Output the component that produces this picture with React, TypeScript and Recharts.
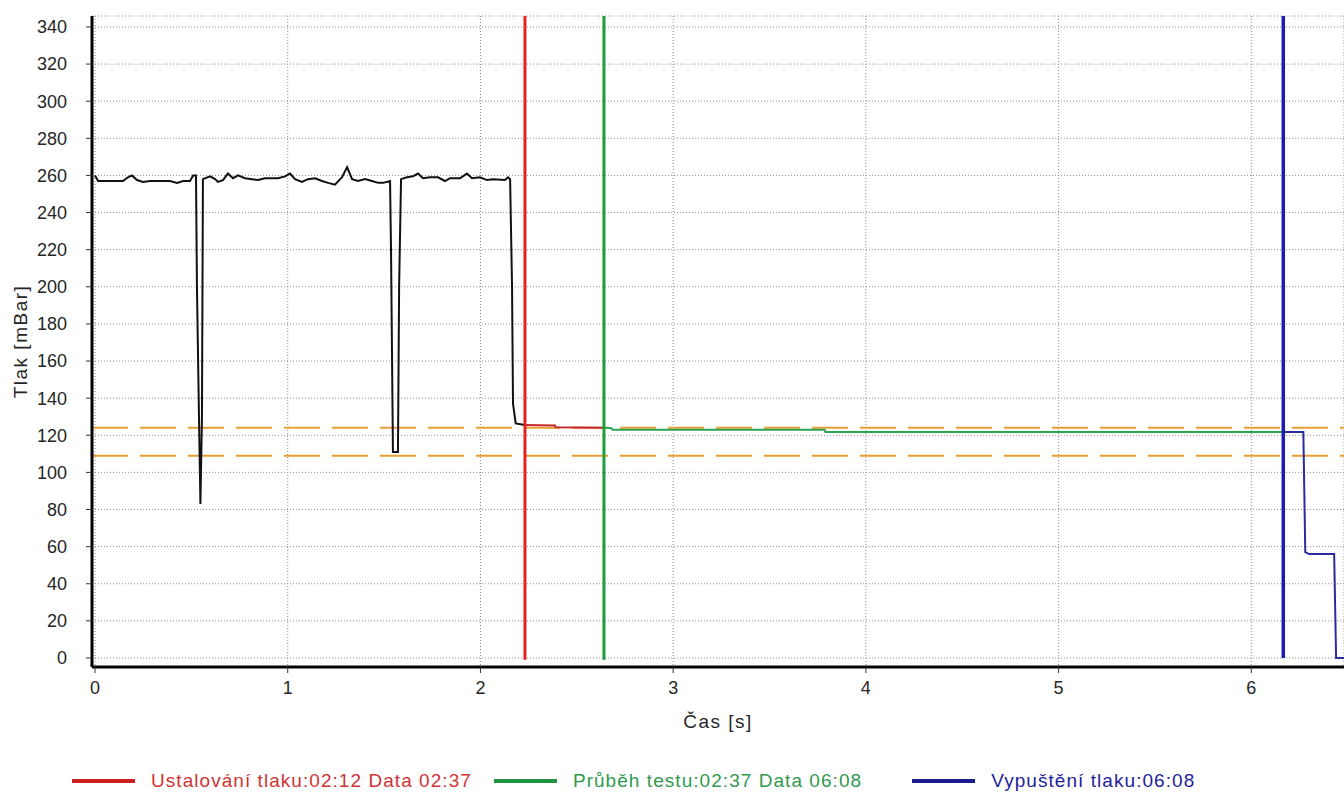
import { LineChart, Line, XAxis, YAxis, CartesianGrid, ReferenceLine } from "recharts";

// measured pressure trace (black), time in s, pressure in mBar
const blackT = [
  0.0, 0.016, 0.145, 0.171, 0.192, 0.218, 0.249, 0.285, 0.389, 0.426, 0.457, 0.493, 0.509, 0.524,
  0.529, 0.54, 0.547, 0.555, 0.56, 0.597, 0.623, 0.638, 0.664, 0.69, 0.716, 0.742, 0.778, 0.815,
  0.846, 0.882, 0.919, 0.95, 0.986, 1.012, 1.038, 1.074, 1.105, 1.142, 1.178, 1.209, 1.245, 1.282,
  1.308, 1.334, 1.365, 1.401, 1.437, 1.469, 1.495, 1.531, 1.536, 1.546, 1.572, 1.578, 1.588, 1.619,
  1.65, 1.676, 1.702, 1.738, 1.78, 1.816, 1.842, 1.894, 1.93, 1.956, 1.998, 2.034, 2.065, 2.128,
  2.143, 2.154, 2.164, 2.169, 2.183, 2.231,
];
const blackP = [
  260, 257, 257, 259, 260, 257.5, 256.5, 257, 257, 256, 257, 257, 260, 260,
  200, 127, 83, 130, 258, 259.5, 258, 256.5, 257.5, 261, 258.5, 260, 258.5, 258,
  257.5, 258.5, 258.5, 258.5, 259.5, 261, 258, 256.5, 258, 258.5, 257, 256, 255, 259,
  264.5, 258, 257, 258, 257, 256, 256, 257, 220, 111, 111, 200, 258, 259,
  259.5, 261, 258.5, 259, 259, 257, 258.5, 258.5, 261, 258.5, 259, 257.5, 258, 257.5,
  259, 258, 200, 137, 126.4, 125.5,
];

// stabilisation phase (red)
const redT = [2.231, 2.387, 2.39, 2.641];
const redP = [125.5, 125.3, 124.3, 124.0];

// test phase (green)
const greenT = [2.641, 2.68, 2.685, 3.786, 3.79, 6.165];
const greenP = [124.0, 123.8, 123.0, 123.0, 121.8, 121.8];

// release phase (blue)
const blueT = [6.165, 6.27, 6.275, 6.28, 6.3, 6.43, 6.435, 6.44, 6.5];
const blueP = [121.8, 121.8, 90, 57, 56, 56, 28, 0, 0];

// phase markers and limits
const markerRed = 2.231;
const markerGreen = 2.641;
const markerBlue = 6.166;
const limitUpper = 124;
const limitLower = 109;

const xTicks = [0, 1, 2, 3, 4, 5, 6];
const xMinorTicks = [
  0.25, 0.5, 0.75, 1.25, 1.5, 1.75, 2.25, 2.5, 2.75, 3.25, 3.5, 3.75, 4.25, 4.5, 4.75, 5.25, 5.5,
  5.75, 6.25,
];
const yTicks = [0, 20, 40, 60, 80, 100, 120, 140, 160, 180, 200, 220, 240, 260, 280, 300, 320, 340];
const yMinorTicks = [
  5, 10, 15, 25, 30, 35, 45, 50, 55, 65, 70, 75, 85, 90, 95, 105, 110, 115, 125, 130, 135, 145, 150,
  155, 165, 170, 175, 185, 190, 195, 205, 210, 215, 225, 230, 235, 245, 250, 255, 265, 270, 275, 285,
  290, 295, 305, 310, 315, 325, 330, 335,
];

const legendItems = [
  { label: "Ustalování tlaku:02:12 Data 02:37", color: "#d03434", line: "#cc1f1f" },
  { label: "Průběh testu:02:37 Data 06:08", color: "#2f9a4f", line: "#1e9440" },
  { label: "Vypuštění tlaku:06:08", color: "#23239a", line: "#1a1a90" },
];

const zip = (ts: number[], ps: number[]) => ts.map((t, i) => ({ t, p: ps[i] }));

const X_DOMAIN: [number, number] = [-0.0156, 6.481];
const Y_DOMAIN: [number, number] = [-4.85, 345.9];
const FONT = "'Liberation Sans', Arial, sans-serif";

export default function App() {
  const tickStyle = { fill: "#262626", fontSize: 18, fontFamily: FONT };
  return (
    <div style={{ position: "absolute", left: 0, top: 0, width: 1344, height: 795, background: "#fff", overflow: "hidden" }}>
      <LineChart width={1344} height={795} margin={{ top: 16, right: 0, bottom: 0, left: 0 }}>
        <CartesianGrid stroke="#8f8f8f" strokeDasharray="1 2" />
        {/* minor ticks first so the major axes sit on the plot edge */}
        <XAxis
          xAxisId="minor"
          type="number"
          dataKey="t"
          domain={X_DOMAIN}
          ticks={xMinorTicks}
          interval={0}
          height={0}
          tickSize={4}
          tickFormatter={() => ""}
          axisLine={false}
          tickLine={{ stroke: "#444" }}
          allowDataOverflow
        />
        <XAxis
          type="number"
          dataKey="t"
          domain={X_DOMAIN}
          ticks={xTicks}
          interval={0}
          height={128}
          tickSize={6}
          tickMargin={8}
          tick={tickStyle}
          axisLine={{ stroke: "#000", strokeWidth: 3 }}
          tickLine={{ stroke: "#333" }}
          allowDataOverflow
          label={{ value: "Čas [s]", position: "insideTop", offset: 48, fill: "#262626", fontSize: 19, fontFamily: FONT, letterSpacing: 1.5 }}
        />
        <XAxis
          xAxisId="top"
          orientation="top"
          type="number"
          dataKey="t"
          domain={X_DOMAIN}
          height={0}
          tick={false}
          axisLine={{ stroke: "#000", strokeWidth: 2 }}
          allowDataOverflow
        />
        <YAxis
          yAxisId="minor"
          type="number"
          domain={Y_DOMAIN}
          ticks={yMinorTicks}
          interval={0}
          width={0}
          tickSize={4}
          tickFormatter={() => ""}
          axisLine={false}
          tickLine={{ stroke: "#444" }}
          allowDataOverflow
        />
        <YAxis
          type="number"
          domain={Y_DOMAIN}
          ticks={yTicks}
          interval={0}
          width={92}
          tickSize={6}
          tickMargin={19}
          tick={tickStyle}
          axisLine={{ stroke: "#000", strokeWidth: 3 }}
          tickLine={{ stroke: "#333" }}
          allowDataOverflow
          label={{
            value: "Tlak [mBar]",
            angle: -90,
            position: "insideLeft",
            offset: 20,
            textAnchor: "middle",
            fill: "#262626",
            fontSize: 19,
            fontFamily: FONT,
            letterSpacing: 1.5,
          }}
        />

        <ReferenceLine y={limitUpper} stroke="#e99e34" strokeWidth={2} strokeDasharray="36 12" />
        <ReferenceLine y={limitLower} stroke="#e99e34" strokeWidth={2} strokeDasharray="36 12" />

        <Line data={zip(blackT, blackP)} dataKey="p" type="linear" stroke="#111" strokeWidth={2} dot={false} isAnimationActive={false} />
        <Line data={zip(redT, redP)} dataKey="p" type="linear" stroke="#c42a2a" strokeWidth={2} dot={false} isAnimationActive={false} />
        <Line data={zip(greenT, greenP)} dataKey="p" type="linear" stroke="#2da352" strokeWidth={2} dot={false} isAnimationActive={false} />
        <Line data={zip(blueT, blueP)} dataKey="p" type="linear" stroke="#2b2b9c" strokeWidth={2} dot={false} isAnimationActive={false} />

        <ReferenceLine segment={[{ x: markerRed, y: -1 }, { x: markerRed, y: 345.9 }]} stroke="#e52020" strokeWidth={3} />
        <ReferenceLine segment={[{ x: markerGreen, y: -1 }, { x: markerGreen, y: 345.9 }]} stroke="#1f9e3e" strokeWidth={3} />
        <ReferenceLine segment={[{ x: markerBlue, y: 0 }, { x: markerBlue, y: 345.9 }]} stroke="#1c1ca8" strokeWidth={3.5} />
      </LineChart>
      <div
        style={{
          position: "absolute",
          top: 770,
          left: 72,
          display: "flex",
          alignItems: "center",
          fontFamily: FONT,
          fontSize: 19,
          letterSpacing: 1.05,
          whiteSpace: "nowrap",
        }}
      >
        {legendItems.map((it, i) => (
          <span key={i} style={{ display: "flex", alignItems: "center", marginRight: i === 0 ? 22 : 50 }}>
            <span style={{ display: "inline-block", width: 63, height: 4, background: it.line, marginRight: 16 }} />
            <span style={{ color: it.color }}>{it.label}</span>
          </span>
        ))}
      </div>
    </div>
  );
}
